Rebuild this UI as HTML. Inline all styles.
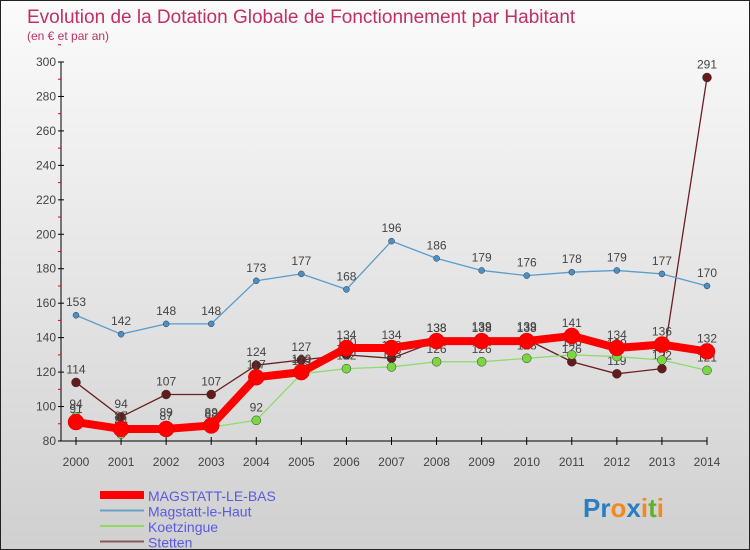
<!DOCTYPE html>
<html><head><meta charset="utf-8"><style>
body{margin:0}
#wrap{width:750px;height:550px;position:relative;overflow:hidden;background:linear-gradient(#fbfbfb,#d0d0d0);border:1px solid #222;box-sizing:border-box;font-family:"Liberation Sans",sans-serif}
</style></head><body>
<div id="wrap">
<svg id="chart" width="750" height="550">
<text x="26" y="22" font-size="19" fill="#c03065">Evolution de la Dotation Globale de Fonctionnement par Habitant</text>
<text x="26" y="39" font-size="12" fill="#c03065">(en € et par an)</text>
<g id="axes"></g><g id="series"></g><g id="legend"></g>
<text x="582" y="516" font-size="26" font-weight="bold"><tspan fill="#2a7ec0">Pr</tspan><tspan fill="#f08a20">o</tspan><tspan fill="#2a7ec0">x</tspan><tspan fill="#f08a20">i</tspan><tspan fill="#60b030">t</tspan><tspan fill="#f08a20">i</tspan></text>
</svg></div>
<script>
const years=[2000,2001,2002,2003,2004,2005,2006,2007,2008,2009,2010,2011,2012,2013,2014];
const yTicks=[80,100,120,140,160,180,200,220,240,260,280,300];
const bas=[91,87,87,89,117,120,134,134,138,138,138,141,134,136,132];
const haut=[153,142,148,148,173,177,168,196,186,179,176,178,179,177,170];
const koetz=[94,84,89,88,92,119,122,123,126,126,128,130,129,127,121];
const stetten=[114,94,107,107,124,127,130,128,138,139,139,126,119,122,291];
const names=["MAGSTATT-LE-BAS","Magstatt-le-Haut","Koetzingue","Stetten"];
const NS="http://www.w3.org/2000/svg";
const x=i=>75+i*(706-75)/(years.length-1);
const y=v=>440-(v-80)*(440-61)/220;
function mk(t,a,p){const e=document.createElementNS(NS,t);for(const k in a)e.setAttribute(k,a[k]);p.appendChild(e);return e;}
const ax=document.getElementById('axes');
let e=mk('line',{x1:60,y1:61,x2:60,y2:440,stroke:'#000'},ax);


e=mk('line',{x1:60,y1:440,x2:706,y2:440,stroke:'#000'},ax);


yTicks.forEach(v=>{mk('line',{x1:57,x2:63,y1:y(v),y2:y(v),stroke:'#000'},ax);
mk('line',{x1:57,x2:60,y1:y(v+10),y2:y(v+10),stroke:'#e00'},ax);
const t=mk('text',{x:55,y:y(v)+4,'text-anchor':'end','font-size':12,fill:'#444'},ax);t.textContent=v;

});
years.forEach((yr,i)=>{mk('line',{x1:x(i),x2:x(i),y1:436,y2:444,stroke:'#000'},ax);
const t=mk('text',{x:x(i),y:465,'text-anchor':'middle','font-size':12,fill:'#444'},ax);t.textContent=yr;

});
const sg=document.getElementById('series');
const cfg=[[stetten,'#6b1f22','#651a1c',1.3,4.5,'stetten-line'],[koetz,'#8ddc6a','#79d83f',1.3,4.5,'koetzingue-line'],[haut,'#5a9ccc','#4a90c8',1.3,3,'magstatt-le-haut-line'],[bas,'#f00','#f00',8,8,'magstatt-le-bas-line']];
cfg.forEach(([d,c,fc,w,r,n])=>{const g=mk('g',{},sg);


mk('polyline',{points:d.map((v,i)=>x(i)+','+y(v)).join(' '),fill:'none',stroke:c,'stroke-width':w,'stroke-linejoin':'round'},g);
d.forEach((v,i)=>{const p=mk('circle',{cx:x(i),cy:y(v),r:r,fill:fc,stroke:w>2?'#d00':'#333','stroke-width':0.5},g);


const t=mk('text',{x:x(i),y:y(v)-9,'text-anchor':'middle','font-size':12,fill:'#444'},g);t.textContent=v;

});});
const lg=document.getElementById('legend');
const lc=['#f00','#6aa0c8','#90d860','#8a5a5a'],lw=[8,2,2,2];
names.forEach((nm,i)=>{const yy=497+i*15.5;const g=mk('g',{},lg);


mk('line',{x1:99,x2:143,y1:yy-3,y2:yy-3,stroke:lc[i],'stroke-width':lw[i]},g);
const t=mk('text',{x:147,y:yy+3,'font-size':14,fill:'#5a5ae0'},g);t.textContent=nm;});
</script></body></html>
